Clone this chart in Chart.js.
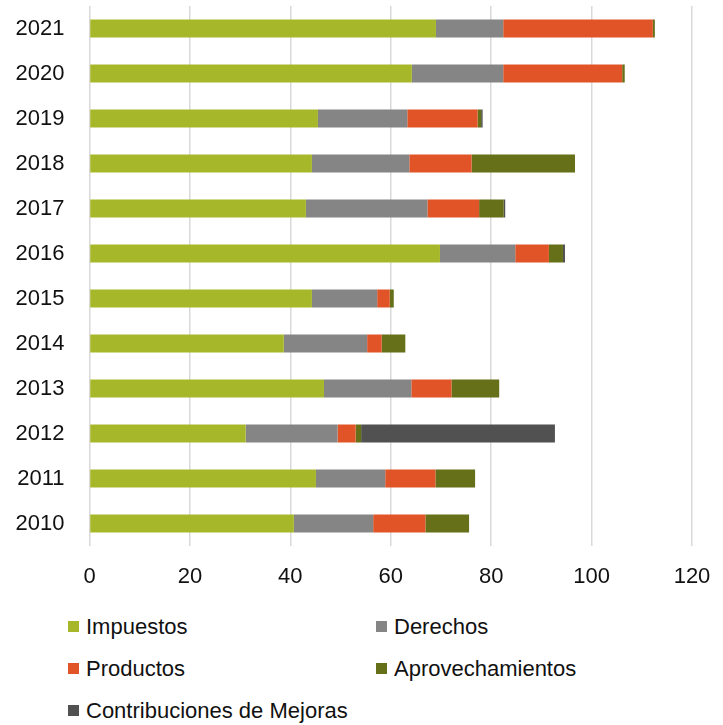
<!DOCTYPE html>
<html>
<head>
<meta charset="utf-8">
<script src="https://cdn.jsdelivr.net/npm/chart.js@4.4.0/dist/chart.umd.min.js"></script>
<style>
  html, body { margin: 0; padding: 0; background: #fff; }
  #wrap { position: relative; width: 723px; height: 725px; }
  #chart { position: absolute; left: 0; top: 0; }
  #legend {
    position: absolute; left: 68px; top: 606px;
    display: grid; grid-template-columns: 308px 300px; row-gap: 0;
    font-family: "Liberation Sans", Arial, sans-serif; font-size: 22px; color: #111;
  }
  .item { display: flex; align-items: center; height: 42px; white-space: nowrap; }
  .box { width: 11px; height: 11px; margin-right: 7px; margin-top: -2px; }
</style>
</head>
<body>
<div id="wrap">
  <canvas id="chart" width="723" height="600"></canvas>
  <div id="legend"></div>
</div>
<script>
// ===== Data =====
const years = ['2010', '2011', '2012', '2013', '2014', '2015', '2016', '2017', '2018', '2019', '2020', '2021'];

const impuestos        = [40.7, 45.1, 31.1, 46.7, 38.7, 44.3, 69.8, 43.1, 44.3, 45.5, 64.2, 69.0];
const derechos         = [15.8, 13.8, 18.3, 17.4, 16.6, 13.0, 15.0, 24.2, 19.4, 17.8, 18.2, 13.4];
const productos        = [10.4, 10.0,  3.6,  8.0,  2.9,  2.5,  6.7, 10.3, 12.4, 14.0, 23.7, 29.8];
const aprovechamientos = [ 8.7,  7.9,  1.1,  9.5,  4.7,  0.8,  2.8,  4.9, 20.6,  0.7,  0.5,  0.4];
const contribuciones   = [ 0.0,  0.0, 38.6,  0.0,  0.0,  0.0,  0.4,  0.3,  0.0,  0.3,  0.0,  0.0];

const xTicks = [0, 20, 40, 60, 80, 100, 120];

const seriesNames  = ['Impuestos', 'Derechos', 'Productos', 'Aprovechamientos', 'Contribuciones de Mejoras'];
const seriesColors = ['#A7B72A', '#858585', '#E15427', '#667019', '#515151'];
const seriesData   = [impuestos, derechos, productos, aprovechamientos, contribuciones];

const FONT = '"Liberation Sans", Arial, sans-serif';

// ===== Chart =====
const ctx = document.getElementById('chart').getContext('2d');

const chart = new Chart(ctx, {
  type: 'bar',
  data: {
    labels: years,
    datasets: seriesNames.map((name, i) => ({
      label: name,
      data: seriesData[i],
      backgroundColor: seriesColors[i],
      borderWidth: 0,
      categoryPercentage: 1,
      barPercentage: 0.4
    }))
  },
  options: {
    indexAxis: 'y',
    responsive: false,
    animation: false,
    layout: {
      padding: { left: 0, top: 6, right: 31, bottom: 0 }
    },
    plugins: {
      legend: { display: false },
      tooltip: { enabled: false }
    },
    scales: {
      x: {
        stacked: true,
        min: 0,
        max: 120,
        afterBuildTicks: (scale) => {
          scale.ticks = xTicks.map(v => ({ value: v }));
        },
        grid: {
          color: '#D9D9D9',
          lineWidth: 1.5,
          drawTicks: false
        },
        border: { display: false },
        ticks: {
          color: '#111',
          padding: 18,
          font: { family: FONT, size: 22 }
        },
        afterFit: (scale) => {
          scale.height = 54;
          scale.paddingLeft = 0;
          scale.paddingRight = 0;
        }
      },
      y: {
        stacked: true,
        reverse: true,
        grid: { display: false, drawTicks: false },
        border: { display: false },
        ticks: {
          color: '#111',
          padding: 25,
          font: { family: FONT, size: 22 }
        },
        afterFit: (scale) => {
          scale.width = 89.5;
          scale.paddingTop = 0;
          scale.paddingBottom = 0;
        }
      }
    }
  }
});

// ===== Legend =====
const legendEl = document.getElementById('legend');
seriesNames.forEach((name, i) => {
  const item = document.createElement('div');
  item.className = 'item';
  const box = document.createElement('span');
  box.className = 'box';
  box.style.background = seriesColors[i];
  const txt = document.createElement('span');
  txt.textContent = name;
  item.appendChild(box);
  item.appendChild(txt);
  legendEl.appendChild(item);
});
</script>
</body>
</html>
